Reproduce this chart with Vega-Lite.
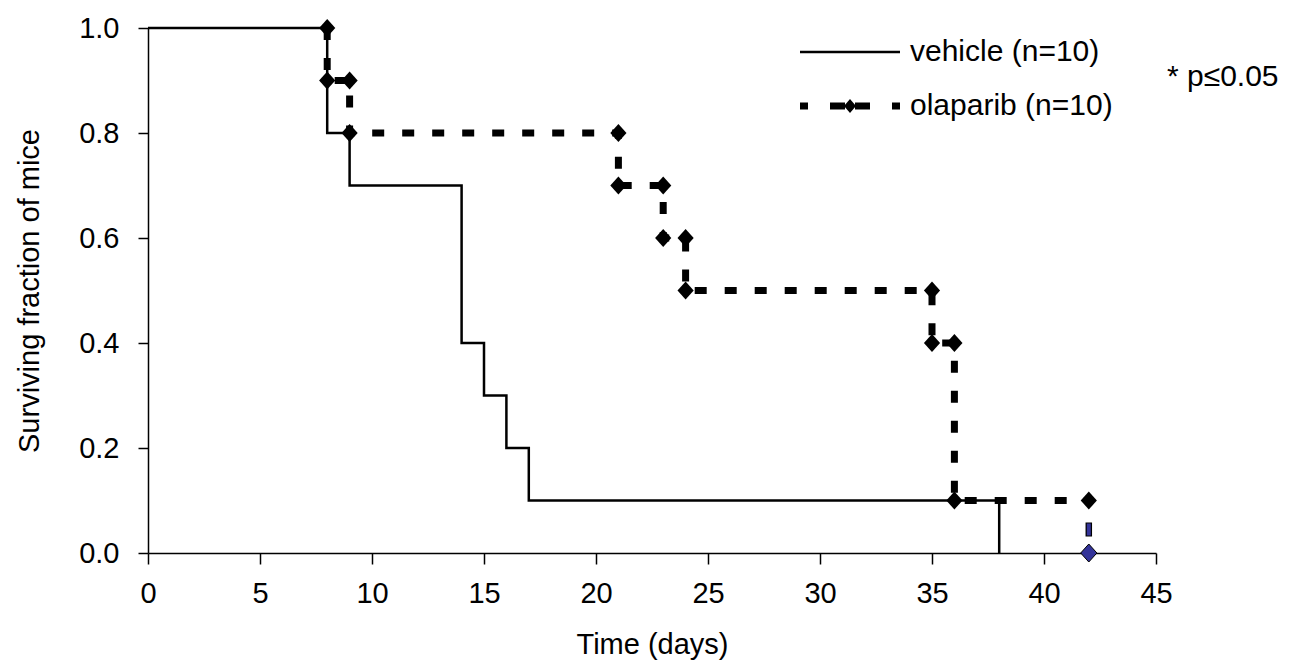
{
  "$schema": "https://vega.github.io/schema/vega-lite/v6.json",
  "autosize": {"type": "none"},
  "padding": {"left": 148, "top": 28, "right": 138, "bottom": 111},
  "width": 1008,
  "height": 525,
  "config": {
    "font": "Liberation Sans",
    "view": {"stroke": null},
    "axis": {
      "domainColor": "black", "domainWidth": 1.5, "tickColor": "black", "tickWidth": 1.5,
      "labelColor": "black", "labelFontSize": 29, "titleFontSize": 29, "titleFontWeight": "normal",
      "titleColor": "black", "grid": false
    }
  },
  "data": {
    "values": [
      {"series": "vehicle (n=10)", "step": 1, "time": 0, "surv": 1.0},
      {"series": "vehicle (n=10)", "step": 2, "time": 8, "surv": 0.8},
      {"series": "vehicle (n=10)", "step": 3, "time": 9, "surv": 0.7},
      {"series": "vehicle (n=10)", "step": 4, "time": 14, "surv": 0.4},
      {"series": "vehicle (n=10)", "step": 5, "time": 15, "surv": 0.3},
      {"series": "vehicle (n=10)", "step": 6, "time": 16, "surv": 0.2},
      {"series": "vehicle (n=10)", "step": 7, "time": 17, "surv": 0.1},
      {"series": "vehicle (n=10)", "step": 8, "time": 38, "surv": 0.0},
      {"series": "olaparib (n=10)", "step": 1, "time": 8, "surv": 1.0},
      {"series": "olaparib (n=10)", "step": 2, "time": 8, "surv": 0.9},
      {"series": "olaparib (n=10)", "step": 3, "time": 9, "surv": 0.9},
      {"series": "olaparib (n=10)", "step": 4, "time": 9, "surv": 0.8},
      {"series": "olaparib (n=10)", "step": 5, "time": 21, "surv": 0.8},
      {"series": "olaparib (n=10)", "step": 6, "time": 21, "surv": 0.7},
      {"series": "olaparib (n=10)", "step": 7, "time": 23, "surv": 0.7},
      {"series": "olaparib (n=10)", "step": 8, "time": 23, "surv": 0.6},
      {"series": "olaparib (n=10)", "step": 9, "time": 24, "surv": 0.6},
      {"series": "olaparib (n=10)", "step": 10, "time": 24, "surv": 0.5},
      {"series": "olaparib (n=10)", "step": 11, "time": 35, "surv": 0.5},
      {"series": "olaparib (n=10)", "step": 12, "time": 35, "surv": 0.4},
      {"series": "olaparib (n=10)", "step": 13, "time": 36, "surv": 0.4},
      {"series": "olaparib (n=10)", "step": 14, "time": 36, "surv": 0.1},
      {"series": "olaparib (n=10)", "step": 15, "time": 42, "surv": 0.1},
      {"series": "olaparib (n=10)", "step": 16, "time": 42, "surv": 0.0}
    ]
  },
  "encoding": {
    "x": {
      "field": "time", "type": "quantitative", "title": "Time (days)",
      "scale": {"domain": [0, 45], "nice": false},
      "axis": {"values": [0, 5, 10, 15, 20, 25, 30, 35, 40, 45], "tickSize": 11, "labelPadding": 15, "titlePadding": 22, "labelFlush": false}
    },
    "y": {
      "field": "surv", "type": "quantitative", "title": "Surviving fraction of mice",
      "scale": {"domain": [0, 1], "nice": false},
      "axis": {"values": [0, 0.2, 0.4, 0.6, 0.8, 1.0], "format": ".1f", "tickSize": 10, "labelPadding": 19, "titlePadding": 34, "labelFlush": false}
    }
  },
  "layer": [
    {
      "transform": [{"filter": "datum.series === 'vehicle (n=10)'"}],
      "mark": {"type": "line", "interpolate": "step-after", "strokeWidth": 2.5},
      "encoding": {
        "color": {
          "field": "series", "type": "nominal",
          "scale": {"domain": ["vehicle (n=10)", "olaparib (n=10)"], "range": ["black", "black"]},
          "legend": {
            "title": "* p≤0.05",
            "orient": "none", "legendX": 652, "legendY": 4, "padding": 0,
            "symbolSize": 1600, "symbolStrokeWidth": 0, "symbolOffset": 30, "rowPadding": 19,
            "labelFontSize": 30, "labelColor": "black", "labelOffset": 40, "labelLimit": 400,
            "titleOrient": "right", "titleAnchor": "middle", "titleBaseline": "middle",
            "titleFontSize": 30, "titleFontWeight": "normal", "titleColor": "black", "titlePadding": 54,
            "encode": {
              "symbols": {
                "update": {
                  "shape": {"signal": "datum.value === 'vehicle (n=10)' ? 'M-2.5,-0.068H2.5V0.068H-2.5Z' : 'M-2.5,-0.175H-2.1V0.175H-2.5Z M-1,-0.175H-0.25V0.175H-1Z M0.25,-0.175H1V0.175H0.25Z M2.1,-0.175H2.5V0.175H2.1Z M-0.3,0L0,-0.35L0.3,0L0,0.35Z'"},
                  "fill": {"value": "black"},
                  "stroke": {"value": "transparent"},
                  "strokeWidth": {"value": 0},
                  "opacity": {"value": 1}
                }
              }
            }
          }
        }
      }
    },
    {
      "transform": [{"filter": "datum.series === 'olaparib (n=10)' && datum.step <= 15"}],
      "mark": {"type": "line", "strokeWidth": 7, "strokeDash": [12, 18], "strokeCap": "butt"},
      "encoding": {
        "color": {"field": "series", "type": "nominal"},
        "order": {"field": "step", "type": "quantitative"}
      }
    },
    {
      "transform": [{"filter": "datum.series === 'olaparib (n=10)' && datum.step >= 15"}],
      "mark": {"type": "line", "strokeWidth": 6.5, "color": "black", "strokeDash": [0, 22, 14, 100], "strokeCap": "butt"},
      "encoding": {"order": {"field": "step", "type": "quantitative"}}
    },
    {
      "transform": [{"filter": "datum.series === 'olaparib (n=10)' && datum.step >= 15"}],
      "mark": {"type": "line", "strokeWidth": 4, "color": "#333399", "strokeDash": [0, 23, 12, 100], "strokeCap": "butt"},
      "encoding": {"order": {"field": "step", "type": "quantitative"}}
    },
    {
      "transform": [{"filter": "datum.series === 'olaparib (n=10)' && datum.step <= 15"}],
      "mark": {"type": "point", "shape": "M-0.9,0L0,-1L0.9,0L0,1Z", "size": 324, "filled": true, "color": "black", "opacity": 1}
    },
    {
      "transform": [{"filter": "datum.series === 'olaparib (n=10)' && datum.step === 16"}],
      "mark": {"type": "point", "shape": "M-0.9,0L0,-1L0.9,0L0,1Z", "size": 324, "filled": true, "fill": "#333399", "stroke": "black", "strokeWidth": 1, "opacity": 1}
    }
  ]
}
